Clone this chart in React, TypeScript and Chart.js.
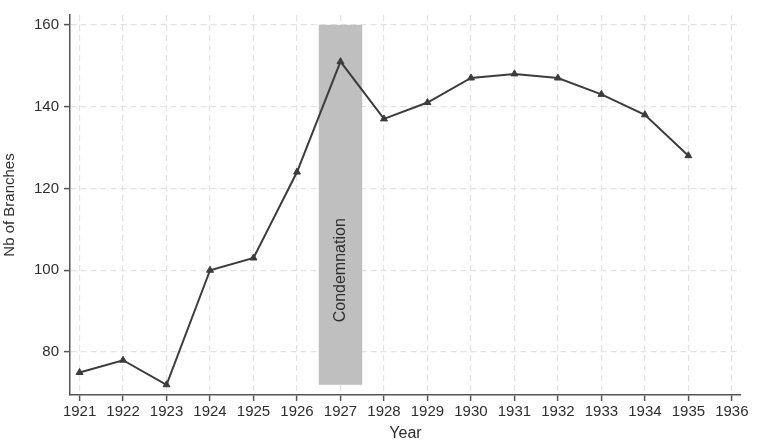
import React, { useEffect, useRef } from "react";
import { Chart, registerables } from "chart.js";

Chart.register(...registerables);

const years = [1921, 1922, 1923, 1924, 1925, 1926, 1927, 1928, 1929, 1930, 1931, 1932, 1933, 1934, 1935];
const branches = [75, 78, 72, 100, 103, 124, 151, 137, 141, 147, 148, 147, 143, 138, 128];
const xTicks = [1921, 1922, 1923, 1924, 1925, 1926, 1927, 1928, 1929, 1930, 1931, 1932, 1933, 1934, 1935, 1936];
const yTicks = [80, 100, 120, 140, 160];
const bandX = [1926.5, 1927.5];
const bandY = [72, 160];
const bandLabel = "Condemnation";
const bandLabelY = 100;

const FONT = "'Liberation Sans', Arial, Helvetica, sans-serif";

const bandPlugin = {
  id: "band",
  beforeDatasetsDraw(chart: any) {
    const { ctx, scales } = chart;
    const x = scales.x, y = scales.y;
    const x0 = x.getPixelForValue(bandX[0]);
    const x1 = x.getPixelForValue(bandX[1]);
    const y0 = y.getPixelForValue(bandY[1]);
    const y1 = y.getPixelForValue(bandY[0]);
    ctx.save();
    ctx.fillStyle = "#bfbfbf";
    ctx.fillRect(x0, y0, x1 - x0, y1 - y0);
    ctx.translate((x0 + x1) / 2, y.getPixelForValue(bandLabelY));
    ctx.rotate(-Math.PI / 2);
    ctx.fillStyle = "#2e2e2e";
    ctx.font = `16px ${FONT}`;
    ctx.textAlign = "center";
    ctx.textBaseline = "middle";
    ctx.fillText(bandLabel, 0, 0);
    ctx.restore();
  },
};

export default function App() {
  const ref = useRef<HTMLCanvasElement>(null);
  useEffect(() => {
    if (!ref.current) return;
    const grid = {
      color: "#e3e3e3",
      lineWidth: 1.2,
      drawTicks: true,
      tickLength: 6,
      tickColor: "#555555",
      tickWidth: 1.5,
      tickBorderDash: [],
    };
    const border = { display: true, color: "#555555", width: 1.5, dash: [6, 4] };
    const chart = new Chart(ref.current, {
      type: "line",
      data: {
        labels: years,
        datasets: [
          {
            data: years.map((yr, i) => ({ x: yr, y: branches[i] })),
            borderColor: "#3c3c3c",
            backgroundColor: "#3c3c3c",
            borderWidth: 2,
            pointStyle: "triangle",
            pointRadius: 4,
            pointBorderWidth: 1,
            tension: 0,
          },
        ],
      },
      options: {
        animation: false,
        responsive: false,
        maintainAspectRatio: false,
        layout: { padding: { left: 0, right: 17, top: 15, bottom: 0 } },
        plugins: { legend: { display: false }, tooltip: { enabled: false } },
        scales: {
          x: {
            type: "linear",
            min: 1920.78,
            max: 1936.21,
            afterBuildTicks: (s: any) => {
              s.ticks = xTicks.map((v) => ({ value: v }));
            },
            afterFit: (s: any) => {
              s.height = 49;
            },
            grid,
            border,
            ticks: {
              autoSkip: false,
              maxRotation: 0,
              padding: 2,
              color: "#2e2e2e",
              font: { family: FONT, size: 15 },
              callback: (v: any) => String(v),
            },
            title: {
              display: true,
              text: "Year",
              color: "#2e2e2e",
              font: { family: FONT, size: 16 },
              padding: { top: 0, bottom: 1 },
            },
          },
          y: {
            type: "linear",
            min: 69.5,
            max: 162.4,
            afterBuildTicks: (s: any) => {
              s.ticks = yTicks.map((v) => ({ value: v }));
            },
            afterFit: (s: any) => {
              s.width = 70;
            },
            grid,
            border,
            ticks: {
              padding: 5,
              color: "#2e2e2e",
              font: { family: FONT, size: 15 },
            },
            title: {
              display: true,
              text: "Nb of Branches",
              color: "#2e2e2e",
              font: { family: FONT, size: 15 },
              padding: { top: 1, bottom: 0 },
            },
          },
        },
      },
      plugins: [bandPlugin],
    } as any);
    return () => chart.destroy();
  }, []);
  return (
    <div style={{ position: "fixed", left: 0, top: 0, width: 758, height: 444, background: "#fff" }}>
      <canvas ref={ref} width={758} height={444} style={{ width: 758, height: 444, display: "block" }} />
    </div>
  );
}
